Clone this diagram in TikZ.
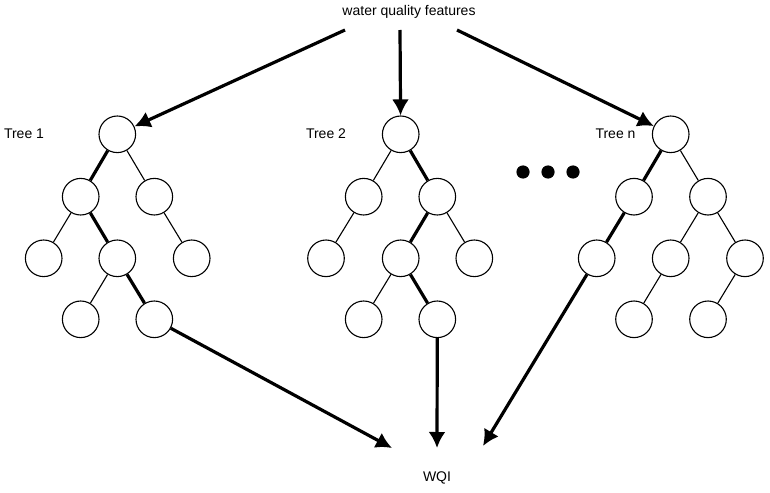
\documentclass[tikz,border=0pt]{standalone}
\usepackage{fontspec}
\setsansfont{Liberation Sans}
\usetikzlibrary{arrows.meta}
\definecolor{ink}{HTML}{000000}

\tikzset{
  leaf/.style={circle,draw=ink,line width=1.1pt,minimum size=36.6pt,inner sep=0pt,fill=white},
  branch/.style={draw=ink,line width=1.1pt},
  pathway/.style={draw=ink,line width=3.2pt},
  flow/.style={draw=ink,line width=3.2pt,-{Latex[length=16pt,width=17pt]}},
  caption/.style={font=\sffamily\fontsize{14}{16}\selectfont,text=ink,inner sep=0pt}
}

\begin{document}
\begin{tikzpicture}[x=1pt,y=-1pt]
  \useasboundingbox (0,0) rectangle (770,492);

  \node[caption] (feat) at (409,12) {water quality features};
  \node[caption] (wqi) at (437,478) {WQI};
  \coordinate (s1) at (345,30);
  \coordinate (s2) at (400,30);
  \coordinate (s3) at (457,30);
  \coordinate (e1) at (392,448);
  \coordinate (e2) at (437,448);
  \coordinate (e3) at (483,446);

  % tree 1
  \node[caption] (lab1) at (24,134) {Tree 1};
  \node[leaf] (a)   at (117.3,134.3) {};
  \node[leaf] (al)  at (80.7,196.7) {};
  \node[leaf] (ar)  at (154.3,196.7) {};
  \node[leaf] (all) at (43.7,258.3) {};
  \node[leaf] (alr) at (117.3,258.3) {};
  \node[leaf] (arr) at (191.7,258.3) {};
  \node[leaf] (alrl) at (80.7,319.3) {};
  \node[leaf] (alrr) at (154.3,319.3) {};
  \draw[branch] (a) -- (ar);
  \draw[branch] (al) -- (all);
  \draw[branch] (ar) -- (arr);
  \draw[branch] (alr) -- (alrl);
  \draw[pathway] (a) -- (al);
  \draw[pathway] (al) -- (alr);
  \draw[pathway] (alr) -- (alrr);

  % tree 2
  \node[caption] (lab2) at (326,134) {Tree 2};
  \node[leaf] (b)   at (400.7,134.3) {};
  \node[leaf] (bl)  at (363.7,196.7) {};
  \node[leaf] (br)  at (437.3,196.7) {};
  \node[leaf] (bll) at (326,258.3) {};
  \node[leaf] (brl) at (400.7,258.3) {};
  \node[leaf] (brr) at (474.3,258.3) {};
  \node[leaf] (brll) at (363.7,319.3) {};
  \node[leaf] (brlr) at (437.3,319.3) {};
  \draw[branch] (b) -- (bl);
  \draw[branch] (bl) -- (bll);
  \draw[branch] (br) -- (brr);
  \draw[branch] (brl) -- (brll);
  \draw[pathway] (b) -- (br);
  \draw[pathway] (br) -- (brl);
  \draw[pathway] (brl) -- (brlr);

  % dots
  \foreach \i/\x in {1/523,2/548,3/573}
    \fill[ink] (\x,172) circle (6.6) coordinate (dot\i);

  % tree n
  \node[caption] (labn) at (615.5,134) {Tree n};
  \node[leaf] (c)   at (670.7,134.3) {};
  \node[leaf] (cl)  at (634,196.7) {};
  \node[leaf] (cr)  at (708,196.7) {};
  \node[leaf] (cll) at (596.7,258.3) {};
  \node[leaf] (crl) at (670.7,258.3) {};
  \node[leaf] (crr) at (745,258.3) {};
  \node[leaf] (crll) at (634,319.3) {};
  \node[leaf] (crrl) at (708,319.3) {};
  \draw[branch] (c) -- (cr);
  \draw[branch] (cr) -- (crl);
  \draw[branch] (cr) -- (crr);
  \draw[branch] (crl) -- (crll);
  \draw[branch] (crr) -- (crrl);
  \draw[pathway] (c) -- (cl);
  \draw[pathway] (cl) -- (cll);

  % features into the trees
  \draw[flow] (s1) -- (a);
  \draw[flow] (s2) -- (b);
  \draw[flow] (s3) -- (c);

  % trees into WQI
  \draw[flow] (alrr) -- (e1);
  \draw[flow] (brlr) -- (e2);
  \draw[flow] (cll) -- (e3);
\end{tikzpicture}
\end{document}
